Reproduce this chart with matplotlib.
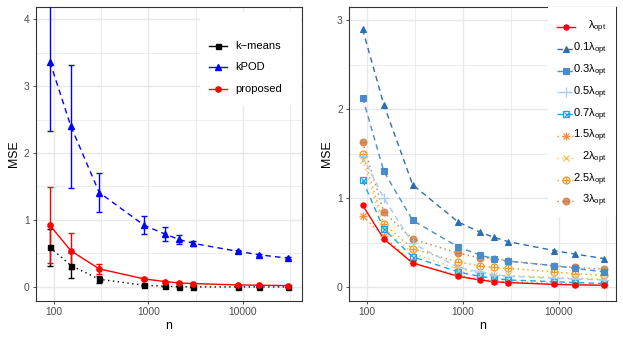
import matplotlib
matplotlib.use("Agg")
import matplotlib.pyplot as plt
from matplotlib.lines import Line2D
from matplotlib.patches import Rectangle
import numpy as np

plt.rcParams['font.family'] = ['Liberation Sans', 'DejaVu Sans']
plt.rcParams['mathtext.fontset'] = 'custom'
plt.rcParams['mathtext.rm'] = 'Liberation Sans'

# ---------------- data ----------------
n = [90, 150, 300, 900, 1500, 2100, 3000, 9000, 15000, 30000]

kmeans = [0.59, 0.32, 0.115, 0.025, 0.01, 0.005, 0.0, 0.0, 0.0, 0.0]
kmeans_err = [0.28, 0.19, 0.055, 0.008, 0.005, 0.004, 0.003, 0.002, 0.002, 0.002]
kpod = [3.36, 2.40, 1.41, 0.92, 0.79, 0.71, 0.65, 0.53, 0.48, 0.43]
kpod_err = [1.03, 0.92, 0.29, 0.135, 0.105, 0.065, 0.04, 0.02, 0.015, 0.015]
proposed = [0.92, 0.54, 0.27, 0.12, 0.08, 0.06, 0.05, 0.03, 0.025, 0.02]
proposed_err = [0.57, 0.27, 0.075, 0.02, 0.012, 0.01, 0.008, 0.005, 0.004, 0.004]

lam_1 = [0.92, 0.54, 0.27, 0.12, 0.08, 0.06, 0.05, 0.03, 0.025, 0.02]
lam_01 = [2.90, 2.05, 1.15, 0.73, 0.62, 0.56, 0.51, 0.41, 0.37, 0.32]
lam_03 = [2.13, 1.30, 0.75, 0.45, 0.36, 0.32, 0.29, 0.24, 0.21, 0.17]
lam_05 = [1.47, 1.00, 0.49, 0.22, 0.17, 0.14, 0.12, 0.10, 0.09, 0.08]
lam_07 = [1.20, 0.65, 0.34, 0.17, 0.12, 0.10, 0.08, 0.06, 0.05, 0.04]
lam_15 = [0.80, 0.57, 0.27, 0.13, 0.09, 0.07, 0.06, 0.04, 0.03, 0.02]
lam_2 = [1.43, 0.66, 0.38, 0.20, 0.16, 0.14, 0.13, 0.11, 0.10, 0.09]
lam_25 = [1.50, 0.71, 0.43, 0.28, 0.24, 0.22, 0.21, 0.17, 0.15, 0.13]
lam_3 = [1.63, 0.84, 0.54, 0.38, 0.33, 0.32, 0.295, 0.24, 0.22, 0.20]

lam_labels = [r'$\mathregular{\lambda_{opt}}$', r'$\mathregular{0.1\lambda_{opt}}$',
              r'$\mathregular{0.3\lambda_{opt}}$', r'$\mathregular{0.5\lambda_{opt}}$',
              r'$\mathregular{0.7\lambda_{opt}}$', r'$\mathregular{1.5\lambda_{opt}}$',
              r'$\mathregular{2\lambda_{opt}}$', r'$\mathregular{2.5\lambda_{opt}}$',
              r'$\mathregular{3\lambda_{opt}}$']
x_ticks = [100, 1000, 10000]
x_tick_labels = ['100', '1000', '10000']

# ---------------- styles ----------------
lam_series = [lam_1, lam_01, lam_03, lam_05, lam_07, lam_15, lam_2, lam_25, lam_3]
lam_colors = ['#ff0000', '#2c6fb0', '#4a8ccb', '#9fcdf6', '#1aa5e6',
              '#f98a38', '#ffbf4a', '#f5961a', '#cc7a42']
lam_ls = ['-', (0, (4, 3)), (0, (4, 3)), (0, (4, 3)), (0, (4, 3)),
          (0, (1, 2.5)), (0, (1, 2.5)), (0, (1, 2.5)), (0, (1, 2.5))]
# list of (marker, filled, size) overlays
lam_markers = [
    [('o', True, 3.8)],
    [('^', True, 4.4)],
    [('s', True, 3.8)],
    [('+', False, 6.5)],
    [('s', False, 4.6), ('x', False, 3.6)],
    [('+', False, 6), ('x', False, 4.6)],
    [('x', False, 4.6)],
    [('o', False, 5.0), ('+', False, 5.0)],
    [('o', 'alpha', 5.0), ('_', False, 5.0)],
]

grid_col = '#e8e8e8'
tick_col = '#4d4d4d'
fs_tick = 7.4
fs_lab = 8.8
fs_leg = 8.0


def style_axes(ax, xlim, ylim, yticks):
    ax.set_xscale('log')
    ax.set_xlim(*xlim)
    ax.set_ylim(*ylim)
    ax.set_xticks(x_ticks)
    ax.set_xticklabels(x_tick_labels)
    ax.set_xticks([10 ** 2.5, 10 ** 3.5, 10 ** 4.5], minor=True)
    ax.set_xticklabels([], minor=True)
    ax.set_yticks(yticks)
    ax.set_yticklabels([str(v) for v in yticks])
    ax.set_yticks([v + 0.5 for v in yticks if v + 0.5 < ylim[1]], minor=True)
    ax.grid(True, which='major', color=grid_col, lw=1.0, zorder=0)
    ax.grid(True, which='minor', color=grid_col, lw=0.55, zorder=0)
    ax.set_axisbelow(True)
    ax.tick_params(which='major', length=2.5, width=0.6, color='#333333',
                   labelsize=fs_tick, labelcolor=tick_col, pad=2)
    ax.tick_params(which='minor', length=0)
    for s in ax.spines.values():
        s.set_color('#333333')
        s.set_linewidth(0.8)
    ax.set_xlabel('n', fontsize=fs_lab, labelpad=2)
    ax.set_ylabel('MSE', fontsize=fs_lab, labelpad=3)


def draw_markers(ax, x, y, color, specs, zorder=4, **kw):
    for m, filled, size in specs:
        if filled is True:
            ax.plot(x, y, ls='none', marker=m, ms=size, mfc=color, mec=color,
                    mew=0.8, zorder=zorder, **kw)
        elif filled == 'alpha':
            ax.plot(x, y, ls='none', marker=m, ms=size, mfc=color, mec=color,
                    mew=0.8, alpha=0.8, zorder=zorder, **kw)
        else:
            ax.plot(x, y, ls='none', marker=m, ms=size, mfc='none', mec=color,
                    mew=0.9, zorder=zorder, **kw)


fig = plt.figure(figsize=(6.23, 3.37), dpi=100)
ax1 = fig.add_axes([36 / 623, 1 - 301 / 337, 266 / 623, 294 / 337])
ax2 = fig.add_axes([349 / 623, 1 - 301 / 337, 267 / 623, 294 / 337])

# ---------------- left panel ----------------
left_series = [
    (kmeans, kmeans_err, 'black', (0, (1, 2.5)), 's', 3.6),
    (kpod, kpod_err, '#0000ff', (0, (4, 3)), '^', 4.4),
    (proposed, proposed_err, '#ff0000', '-', 'o', 3.8),
]
for y, e, c, ls, m, ms in left_series:
    ax1.errorbar(n, y, yerr=e, color=c, ls=ls, lw=1.0, marker=m, ms=ms,
                 mfc=c, mec=c, capsize=2.0, elinewidth=1.0, capthick=1.0, zorder=3)
style_axes(ax1, (64, 42600), (-0.21, 4.18), [0, 1, 2, 3, 4])

# left legend (manual, ggplot-like)
ax1.add_patch(Rectangle((0.617, 0.663), 0.38, 0.32, transform=ax1.transAxes,
                        facecolor='white', edgecolor='none', zorder=5))
left_names = ['k\u2212means', 'kPOD', 'proposed']
left_leg_y = [0.868, 0.796, 0.720]
for (y, e, c, ls, m, ms), name, ly in zip(left_series, left_names, left_leg_y):
    ax1.add_line(Line2D([0.650, 0.718], [ly, ly], transform=ax1.transAxes,
                        color=c, lw=1.0, zorder=6))
    ax1.add_line(Line2D([0.684], [ly], transform=ax1.transAxes, marker=m, ms=ms,
                        color=c, zorder=6))
    ax1.text(0.748, ly, name, transform=ax1.transAxes, fontsize=fs_leg,
             va='center', ha='left', zorder=7)

# ---------------- right panel ----------------
order = [8, 7, 6, 5, 4, 3, 2, 1, 0]
for i in order:
    y = lam_series[i]
    ax2.plot(n, y, color=lam_colors[i], ls=lam_ls[i], lw=1.0, zorder=3)
    draw_markers(ax2, n, y, lam_colors[i], lam_markers[i])
style_axes(ax2, (10 ** 1.812, 10 ** 4.60), (-0.157, 3.15), [0, 1, 2, 3])

ax2.add_patch(Rectangle((0.745, 0.286), 0.255, 0.714, transform=ax2.transAxes,
                        facecolor='white', edgecolor='none', zorder=5))
leg_y_px = [27.3, 48.7, 70.7, 92.3, 114.3, 136.0, 158.0, 179.7, 201.0]
for i, ypx in enumerate(leg_y_px):
    ly = (301 - ypx) / 294
    ax2.add_line(Line2D([0.778, 0.846], [ly, ly], transform=ax2.transAxes,
                        color=lam_colors[i], ls=lam_ls[i], lw=1.0, zorder=6))
    draw_markers(ax2, [0.813], [ly], lam_colors[i], lam_markers[i], zorder=7,
                 transform=ax2.transAxes, clip_on=False)
    ax2.text(0.965, ly, lam_labels[i], transform=ax2.transAxes, fontsize=fs_leg,
             va='center', ha='right', zorder=8)

fig.savefig('out.png', dpi=100)
